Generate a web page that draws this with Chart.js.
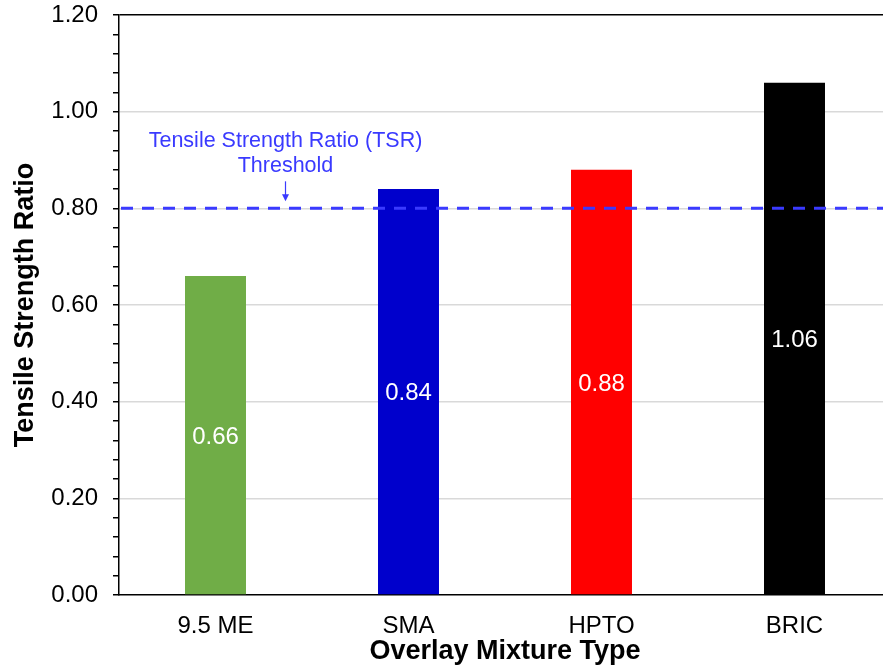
<!DOCTYPE html>
<html>
<head>
<meta charset="utf-8">
<script src="https://cdn.jsdelivr.net/npm/chart.js@4"></script>
<style>
  html, body { margin: 0; padding: 0; background: #fff; overflow: hidden; }
  #wrap { width: 883px; height: 672px; overflow: hidden; }
</style>
</head>
<body>
<div id="wrap"><canvas id="c" width="891" height="672"></canvas></div>
<script>
// Mixture types and their tensile strength ratios
const categories = ['9.5 ME', 'SMA', 'HPTO', 'BRIC'];
const tsrValues = [0.66, 0.84, 0.88, 1.06];
const barColors = ['#70ad47', '#0000cc', '#ff0000', '#000000'];
const tsrThreshold = 0.80;
const thresholdLabel = ['Tensile Strength Ratio (TSR)', 'Threshold'];
const yMin = 0, yMax = 1.2, yMajorStep = 0.2, yMinorStep = 0.04;

const FONT = '"Liberation Sans", Arial, sans-serif';

// Dashed threshold line with its caption and arrow
const thresholdPlugin = {
  id: 'threshold',
  afterDatasetsDraw(chart) {
    const { ctx, chartArea, scales } = chart;
    const y = scales.y.getPixelForValue(tsrThreshold);
    ctx.save();
    ctx.strokeStyle = '#3a3aff';
    ctx.lineWidth = 3;
    ctx.setLineDash([12, 9]);
    ctx.beginPath();
    ctx.moveTo(chartArea.left + 2, y);
    ctx.lineTo(chartArea.right, y);
    ctx.stroke();
    ctx.setLineDash([]);

    const cx = scales.x.getPixelForValue(0) + 70;
    ctx.fillStyle = '#3a3aff';
    ctx.font = '21.5px ' + FONT;
    ctx.textAlign = 'center';
    ctx.textBaseline = 'middle';
    ctx.fillText(thresholdLabel[0], cx, y - 67);
    ctx.fillText(thresholdLabel[1], cx, y - 42);

    // arrow
    ctx.lineWidth = 1.2;
    ctx.strokeStyle = '#3a3aff';
    ctx.beginPath();
    ctx.moveTo(cx, y - 27);
    ctx.lineTo(cx, y - 12);
    ctx.stroke();
    ctx.beginPath();
    ctx.moveTo(cx - 3.5, y - 14);
    ctx.lineTo(cx + 3.5, y - 14);
    ctx.lineTo(cx, y - 7);
    ctx.closePath();
    ctx.fill();
    ctx.restore();
  }
};

// Value labels centred inside each bar
const valueLabelPlugin = {
  id: 'valueLabels',
  afterDatasetsDraw(chart) {
    const { ctx } = chart;
    const meta = chart.getDatasetMeta(0);
    ctx.save();
    ctx.fillStyle = '#ffffff';
    ctx.font = '24px ' + FONT;
    ctx.textAlign = 'center';
    ctx.textBaseline = 'middle';
    meta.data.forEach((bar, i) => {
      const p = bar.getProps(['x', 'y', 'base'], true);
      ctx.fillText(tsrValues[i].toFixed(2), p.x, (p.y + p.base) / 2 + 2);
    });
    ctx.restore();
  }
};

const isMajor = v => Math.abs(v / yMajorStep - Math.round(v / yMajorStep)) < 1e-6;

new Chart(document.getElementById('c'), {
  type: 'bar',
  data: {
    labels: categories,
    datasets: [{
      data: tsrValues,
      backgroundColor: barColors,
      borderWidth: 0,
      barPercentage: 0.316,
      categoryPercentage: 1.0
    }]
  },
  options: {
    responsive: false,
    animation: false,
    devicePixelRatio: 1,
    layout: { padding: { top: 0, left: 0, right: 0, bottom: 0 } },
    plugins: { legend: { display: false }, tooltip: { enabled: false } },
    scales: {
      x: {
        grid: { display: false, drawTicks: false },
        border: { display: true, color: '#000', width: 1.5 },
        ticks: { color: '#000', font: { family: FONT, size: 24 }, padding: 17 },
        title: {
          display: true, text: 'Overlay Mixture Type', color: '#000',
          font: { family: FONT, size: 27, weight: 'bold' },
          padding: { top: 0, bottom: 4 }
        },
        afterFit(scale) { scale.height = 77; }
      },
      y: {
        min: yMin, max: yMax,
        ticks: {
          stepSize: yMinorStep,
          autoSkip: false,
          color: '#000',
          font: { family: FONT, size: 24 },
          padding: 15,
          callback: v => isMajor(v) ? v.toFixed(2) : ''
        },
        grid: {
          drawTicks: true,
          tickLength: 6,
          tickColor: '#000',
          lineWidth: 1.5,
          color: ctx => {
            const v = ctx.tick ? ctx.tick.value : 0;
            if (Math.abs(v - yMax) < 1e-6) return '#000';
            if (v > 1e-6 && isMajor(v)) return '#d9d9d9';
            return 'rgba(0,0,0,0)';
          }
        },
        border: { display: true, color: '#000', width: 1.5 },
        title: {
          display: true, text: 'Tensile Strength Ratio', color: '#000',
          font: { family: FONT, size: 27, weight: 'bold' },
          padding: { top: 9, bottom: 0 }
        },
        afterFit(scale) {
          scale.width = 119;
          scale.paddingTop = 15;
          scale.paddingBottom = 0;
        }
      }
    }
  },
  plugins: [thresholdPlugin, valueLabelPlugin]
});
</script>
</body>
</html>
